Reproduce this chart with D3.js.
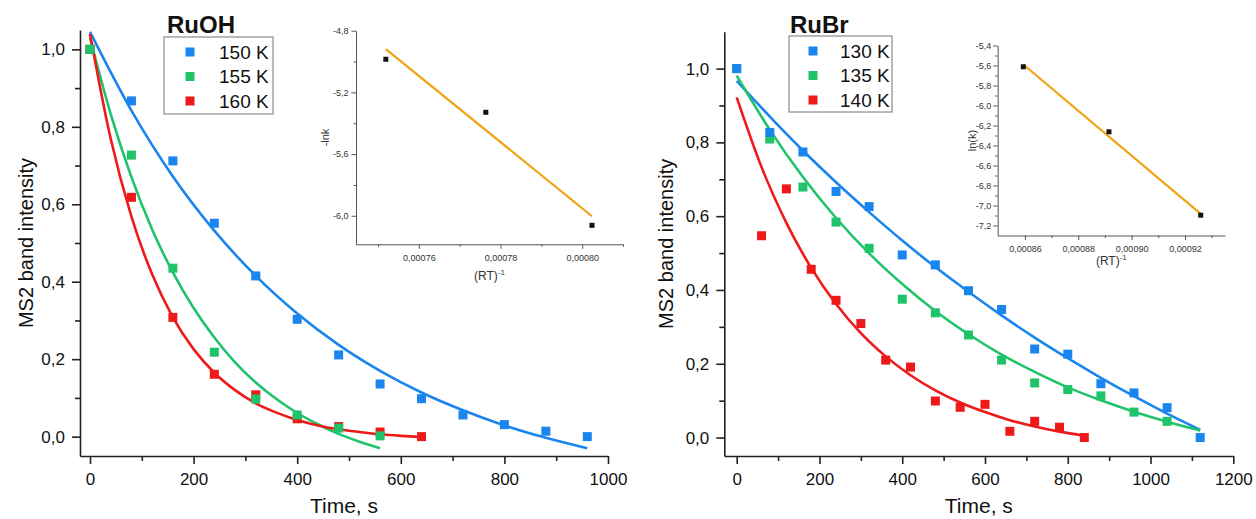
<!DOCTYPE html>
<html>
<head>
<meta charset="utf-8">
<script src="https://cdn.jsdelivr.net/npm/d3@7"></script>
<style>
  body { margin: 0; background: #fff; }
  svg { display: block; }
  text { font-family: "Liberation Sans", Arial, sans-serif; }
</style>
</head>
<body>
<svg id="chart" width="1256" height="519"></svg>
<script>
// ---------- RuOH: MS2 band decay ----------
const ruohTime150 = [0, 80, 160, 240, 320, 400, 480, 560, 640, 720, 800, 880, 960];
const ruohK150    = [1.0, 0.867, 0.712, 0.551, 0.415, 0.303, 0.211, 0.136, 0.098, 0.056, 0.031, 0.014, 0.0];
const ruohTime155 = [0, 80, 160, 240, 320, 400, 480, 560];
const ruohK155    = [1.0, 0.727, 0.435, 0.218, 0.097, 0.056, 0.022, 0.002];
const ruohTime160 = [0, 80, 160, 240, 320, 400, 480, 560, 640];
const ruohK160    = [1.0, 0.618, 0.308, 0.161, 0.108, 0.046, 0.026, 0.012, 0.0];

// exponential fit curves (sampled)
const ruohFitTime150 = [0, 80, 160, 240, 320, 400, 480, 560, 640, 720, 800, 880, 960];
const ruohFit150     = [1.045, 0.842, 0.672, 0.532, 0.415, 0.318, 0.237, 0.170, 0.114, 0.068, 0.029, -0.003, -0.030];
const ruohFitTime155 = [0, 40, 80, 120, 160, 200, 240, 280, 320, 360, 400, 440, 480, 520, 560];
const ruohFit155     = [1.030, 0.833, 0.670, 0.535, 0.424, 0.332, 0.256, 0.192, 0.140, 0.097, 0.061, 0.032, 0.007, -0.013, -0.030];
const ruohFitTime160 = [0, 40, 80, 120, 160, 200, 240, 280, 320, 360, 400, 440, 480, 520, 560, 600, 640];
const ruohFit160     = [1.040, 0.769, 0.568, 0.419, 0.308, 0.226, 0.165, 0.120, 0.086, 0.062, 0.043, 0.029, 0.019, 0.012, 0.006, 0.002, -0.001];

// ---------- RuBr: MS2 band decay ----------
const rubrTime130 = [0, 80, 160, 240, 320, 400, 480, 560, 640, 720, 800, 880, 960, 1040, 1120];
const rubrK130    = [1.0, 0.827, 0.774, 0.667, 0.626, 0.495, 0.468, 0.398, 0.347, 0.240, 0.226, 0.146, 0.121, 0.081, 0.0];
const rubrTime135 = [0, 80, 160, 240, 320, 400, 480, 560, 640, 720, 800, 880, 960, 1040];
const rubrK135    = [1.0, 0.809, 0.679, 0.584, 0.513, 0.375, 0.338, 0.278, 0.210, 0.148, 0.130, 0.113, 0.069, 0.044];
const rubrTime140 = [60, 120, 180, 240, 300, 360, 420, 480, 540, 600, 660, 720, 780, 840];
const rubrK140    = [0.547, 0.674, 0.456, 0.372, 0.309, 0.210, 0.191, 0.099, 0.082, 0.090, 0.017, 0.044, 0.028, 0.0];

const rubrFitTime130 = [0, 80, 160, 240, 320, 400, 480, 560, 640, 720, 800, 880, 960, 1040, 1120];
const rubrFit130     = [0.967, 0.870, 0.778, 0.692, 0.611, 0.534, 0.462, 0.395, 0.331, 0.271, 0.215, 0.162, 0.112, 0.065, 0.021];
const rubrFitTime135 = [0, 80, 160, 240, 320, 400, 480, 560, 640, 720, 800, 880, 960, 1040, 1120];
const rubrFit135     = [0.981, 0.834, 0.706, 0.595, 0.499, 0.416, 0.343, 0.280, 0.225, 0.178, 0.136, 0.101, 0.070, 0.043, 0.019];
const rubrFitTime140 = [0, 60, 120, 180, 240, 300, 360, 420, 480, 540, 600, 660, 720, 780, 840];
const rubrFit140     = [0.922, 0.733, 0.582, 0.460, 0.362, 0.283, 0.220, 0.169, 0.128, 0.095, 0.069, 0.047, 0.030, 0.016, 0.005];

// ---------- Arrhenius insets ----------
const ruohInvRT   = [0.0007519, 0.0007764, 0.0008024];
const ruohMinusLnK = [-4.985, -5.329, -6.062];
const ruohLineX   = [0.0007519, 0.0008024];
const ruohLineY   = [-4.919, -6.003];

const rubrInvRT   = [0.0008594, 0.0008915, 0.0009259];
const rubrLnK     = [-5.613, -6.263, -7.097];
const rubrLineX   = [0.0008594, 0.0009259];
const rubrLineY   = [-5.590, -7.083];

// ---------- tick values ----------
const ruohXTicks = [0, 200, 400, 600, 800, 1000];
const ruohXMinor = [100, 300, 500, 700, 900];
const rubrXTicks = [0, 200, 400, 600, 800, 1000, 1200];
const rubrXMinor = [100, 300, 500, 700, 900, 1100];
const intensityTicks = [0.0, 0.2, 0.4, 0.6, 0.8, 1.0];
const intensityMinor = [0.1, 0.3, 0.5, 0.7, 0.9];

const ruohInsetXTicks = [0.00076, 0.00078, 0.00080];
const ruohInsetXMinor = [0.00075, 0.00077, 0.00079, 0.00081];
const ruohInsetYTicks = [-4.8, -5.2, -5.6, -6.0];
const ruohInsetYMinor = [-5.0, -5.4, -5.8];
const rubrInsetXTicks = [0.00086, 0.00088, 0.00090, 0.00092];
const rubrInsetXMinor = [0.00087, 0.00089, 0.00091, 0.00093];
const rubrInsetYTicks = [-5.4, -5.6, -5.8, -6.0, -6.2, -6.4, -6.6, -6.8, -7.0, -7.2];
const rubrInsetYMinor = [-5.5, -5.7, -5.9, -6.1, -6.3, -6.5, -6.7, -6.9, -7.1];

const ruohLabels = ["150 K", "155 K", "160 K"];
const rubrLabels = ["130 K", "135 K", "140 K"];

const BLUE = "#1a85ee", GREEN = "#1ec36a", RED = "#ee1a1a", GOLD = "#f0a312";

const svg = d3.select("#chart");
const decimalComma = n => d => d.toFixed(n).replace(".", ",");
const zip = (a, b) => a.map((v, i) => [v, b[i]]);

function styleAxis(sel, fontSize, color, width) {
  sel.select(".domain").attr("stroke", color).attr("stroke-width", width);
  sel.selectAll(".tick line").attr("stroke", color).attr("stroke-width", width);
  sel.selectAll(".tick text").attr("fill", "#111").attr("font-size", fontSize)
     .attr("font-family", '"Liberation Sans", Arial, sans-serif');
  sel.attr("font-size", null).attr("font-family", null);
}

function drawAxes(g, x, y, o) {
  const x0 = x.range()[0], y0 = y.range()[0];
  // minor ticks
  g.append("g").attr("transform", `translate(0,${y0})`)
    .call(d3.axisBottom(x).tickValues(o.xMinor).tickSize(o.minorLen).tickFormat(""))
    .call(s => { s.select(".domain").remove(); styleAxis(s, o.fs, o.color, o.w); });
  g.append("g").attr("transform", `translate(${x0},0)`)
    .call(d3.axisLeft(y).tickValues(o.yMinor).tickSize(o.minorLen).tickFormat(""))
    .call(s => { s.select(".domain").remove(); styleAxis(s, o.fs, o.color, o.w); });
  // major ticks with labels
  g.append("g").attr("transform", `translate(0,${y0})`)
    .call(d3.axisBottom(x).tickValues(o.xTicks).tickSize(o.majorLen).tickSizeOuter(0)
      .tickPadding(o.xPad).tickFormat(o.xFmt))
    .call(s => styleAxis(s, o.fs, o.color, o.w));
  g.append("g").attr("transform", `translate(${x0},0)`)
    .call(d3.axisLeft(y).tickValues(o.yTicks).tickSize(o.majorLen).tickSizeOuter(0)
      .tickPadding(o.yPad).tickFormat(o.yFmt))
    .call(s => styleAxis(s, o.fs, o.color, o.w));
}

function mainPanel(p) {
  const x = d3.scaleLinear().domain(p.xDomain).range(p.xRange);
  const y = d3.scaleLinear().domain(p.yDomain).range(p.yRange);
  const g = svg.append("g");

  drawAxes(g, x, y, {
    xMinor: p.xMinor, yMinor: intensityMinor, xTicks: p.xTicks, yTicks: intensityTicks,
    minorLen: 5, majorLen: 8, xPad: 9, yPad: 7, fs: 17, color: "#222", w: 1.6,
    xFmt: d3.format("d"), yFmt: decimalComma(1)
  });

  // axis titles
  g.append("text").attr("x", (p.xRange[0] + p.xRange[1]) / 2).attr("y", 513)
    .attr("text-anchor", "middle").attr("font-size", 21).attr("fill", "#111").text("Time, s");
  g.append("text")
    .attr("transform", `translate(${p.yTitleX},${(p.yRange[0] + p.yRange[1]) / 2}) rotate(-90)`)
    .attr("text-anchor", "middle").attr("dy", "0.35em").attr("font-size", 20).attr("fill", "#111")
    .text("MS2 band intensity");

  // fit curves
  const line = d3.line().x(d => x(d[0])).y(d => y(d[1])).curve(d3.curveMonotoneX);
  p.series.forEach(s => {
    g.append("path").datum(zip(s.fitT, s.fitV)).attr("d", line)
      .attr("fill", "none").attr("stroke", s.color).attr("stroke-width", 2.6);
  });
  // measured points
  const sz = 9;
  p.pointOrder.forEach(i => {
    const s = p.series[i];
    g.append("g").selectAll("rect").data(zip(s.t, s.v)).join("rect")
      .attr("x", d => x(d[0]) - sz / 2).attr("y", d => y(d[1]) - sz / 2)
      .attr("width", sz).attr("height", sz).attr("fill", s.color);
  });

  // title
  g.append("text").attr("x", p.title.x).attr("y", 33).attr("font-size", 24)
    .attr("font-weight", "bold").attr("fill", "#111").text(p.title.text);

  // legend
  const L = p.legend;
  g.append("rect").attr("x", L.x).attr("y", L.y).attr("width", L.w).attr("height", L.h)
    .attr("fill", "#fff").attr("stroke", "#8a8a8a").attr("stroke-width", 1.2);
  p.series.forEach((s, i) => {
    const cy = L.y + 15 + i * 24.5;
    g.append("rect").attr("x", L.sx - 4.5).attr("y", cy - 4.5).attr("width", 9).attr("height", 9)
      .attr("fill", s.color);
    g.append("text").attr("x", L.tx).attr("y", cy).attr("dy", "0.36em").attr("font-size", 19)
      .attr("fill", "#111").text(p.labels[i]);
  });
}

function insetPanel(p) {
  const x = d3.scaleLinear().domain(p.xDomain).range(p.xRange);
  const y = d3.scaleLinear().domain(p.yDomain).range(p.yRange);
  const g = svg.append("g");

  drawAxes(g, x, y, {
    xMinor: p.xMinor, yMinor: p.yMinor, xTicks: p.xTicks, yTicks: p.yTicks,
    minorLen: 2.5, majorLen: 4.5, xPad: 6, yPad: p.yPad, fs: 9, color: "#555", w: 1,
    xFmt: decimalComma(5), yFmt: decimalComma(1)
  });
  g.selectAll(".tick text").attr("fill", "#333");

  // axis titles
  const xt = g.append("text").attr("x", (p.xRange[0] + p.xRange[1]) / 2).attr("y", p.xTitleY)
    .attr("text-anchor", "middle").attr("font-size", 12).attr("fill", "#333");
  xt.append("tspan").text("(RT)");
  xt.append("tspan").attr("dy", -5).attr("font-size", 8).text("-1");
  g.append("text")
    .attr("transform", `translate(${p.yTitleX},${(p.yRange[0] + p.yRange[1]) / 2}) rotate(-90)`)
    .attr("text-anchor", "middle").attr("dy", "0.35em").attr("font-size", 11).attr("fill", "#333")
    .text(p.yTitle);

  // linear fit
  g.append("path").datum(zip(p.lineX, p.lineY))
    .attr("d", d3.line().x(d => x(d[0])).y(d => y(d[1])))
    .attr("fill", "none").attr("stroke", GOLD).attr("stroke-width", 2.2);
  // points
  const sz = 5;
  g.append("g").selectAll("rect").data(zip(p.px, p.py)).join("rect")
    .attr("x", d => x(d[0]) - sz / 2).attr("y", d => y(d[1]) - sz / 2)
    .attr("width", sz).attr("height", sz).attr("fill", "#111");
}

// ---------- RuOH ----------
mainPanel({
  xDomain: [-19.3, 1000], xRange: [80, 608],
  yDomain: [-0.05, 1.05], yRange: [456, 30],
  xTicks: ruohXTicks, xMinor: ruohXMinor, yTitleX: 26,
  series: [
    { t: ruohTime150, v: ruohK150, fitT: ruohFitTime150, fitV: ruohFit150, color: BLUE },
    { t: ruohTime155, v: ruohK155, fitT: ruohFitTime155, fitV: ruohFit155, color: GREEN },
    { t: ruohTime160, v: ruohK160, fitT: ruohFitTime160, fitV: ruohFit160, color: RED }
  ],
  pointOrder: [0, 2, 1],
  labels: ruohLabels,
  title: { text: "RuOH", x: 167 },
  legend: { x: 164, y: 37, w: 109, h: 77, sx: 190, tx: 219 }
});
insetPanel({
  xDomain: [0.0007446, 0.00081], xRange: [356, 623],
  yDomain: [-6.185, -4.8], yRange: [244.3, 30.7],
  xTicks: ruohInsetXTicks, xMinor: ruohInsetXMinor,
  yTicks: ruohInsetYTicks, yMinor: ruohInsetYMinor, yPad: 3,
  xTitleY: 280, yTitleX: 325, yTitle: "-lnk",
  px: ruohInvRT, py: ruohMinusLnK, lineX: ruohLineX, lineY: ruohLineY
});

// ---------- RuBr ----------
mainPanel({
  xDomain: [-30, 1200], xRange: [724.3, 1233.3],
  yDomain: [-0.05, 1.1], yRange: [456, 31.7],
  xTicks: rubrXTicks, xMinor: rubrXMinor, yTitleX: 666,
  series: [
    { t: rubrTime130, v: rubrK130, fitT: rubrFitTime130, fitV: rubrFit130, color: BLUE },
    { t: rubrTime135, v: rubrK135, fitT: rubrFitTime135, fitV: rubrFit135, color: GREEN },
    { t: rubrTime140, v: rubrK140, fitT: rubrFitTime140, fitV: rubrFit140, color: RED }
  ],
  pointOrder: [2, 1, 0],
  labels: rubrLabels,
  title: { text: "RuBr", x: 790 },
  legend: { x: 789, y: 36, w: 103, h: 76, sx: 813, tx: 840 }
});
insetPanel({
  xDomain: [0.0008498, 0.000935], xRange: [997.7, 1225],
  yDomain: [-7.3, -5.4], yRange: [235.5, 45.5],
  xTicks: rubrInsetXTicks, xMinor: rubrInsetXMinor,
  yTicks: rubrInsetYTicks, yMinor: rubrInsetYMinor, yPad: 2,
  xTitleY: 265, yTitleX: 972, yTitle: "ln(k)",
  px: rubrInvRT, py: rubrLnK, lineX: rubrLineX, lineY: rubrLineY
});
</script>
</body>
</html>
